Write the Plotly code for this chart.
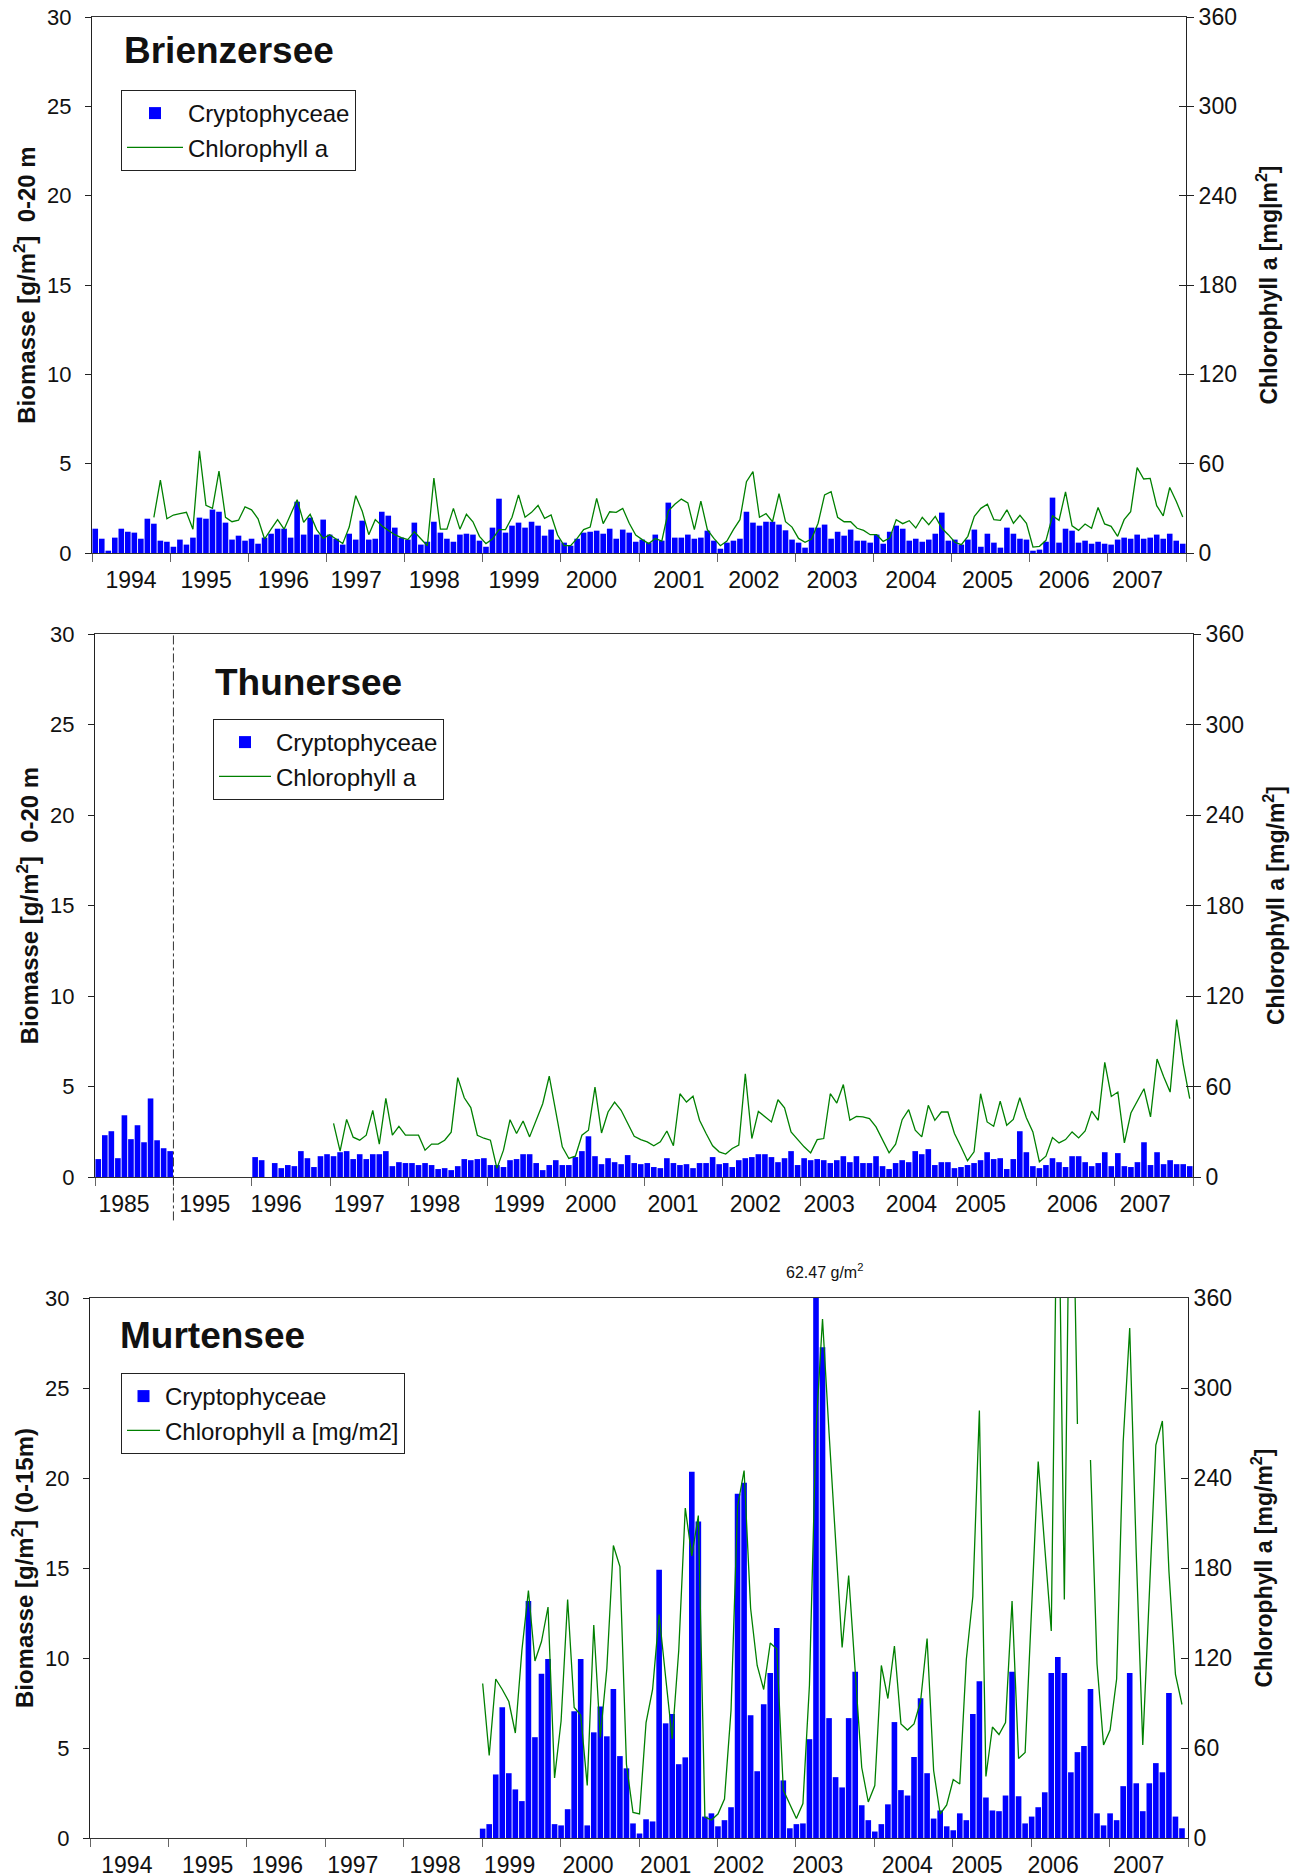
import plotly.graph_objects as go

W, H = 1300, 1874
OFF = 8  # page body margin around the plot div
FONT = "Arial, Liberation Sans, sans-serif"
BLUE = "#0000FF"
GREEN = "#008000"

# ---------------- Brienzersee (monthly, 1994-2007) ----------------
brienz_labels = [str(y) for y in range(1994, 2008)]
brienz_bio = [
    1.36, 0.80, 0.13, 0.86, 1.36, 1.19, 1.14, 0.80, 1.92, 1.64, 0.69, 0.63,  # 1994
    0.35, 0.75, 0.47, 0.86, 1.98, 1.92, 2.43, 2.31, 1.70, 0.75, 0.97, 0.69,  # 1995
    0.80, 0.52, 0.86, 1.08, 1.36, 1.36, 0.86, 2.87, 1.03, 1.98, 1.03, 1.87,  # 1996
    1.03, 0.80, 0.47, 1.08, 0.75, 1.81, 0.75, 0.80, 2.31, 2.09, 1.42, 0.86,  # 1997
    0.75, 1.70, 0.47, 0.63, 1.75, 1.14, 0.80, 0.63, 1.03, 1.08, 1.03, 0.69,  # 1998
    0.35, 1.42, 3.04, 1.14, 1.53, 1.70, 1.42, 1.75, 1.53, 0.97, 1.31, 0.75,  # 1999
    0.58, 0.41, 0.80, 1.14, 1.19, 1.25, 1.08, 1.36, 0.80, 1.31, 1.14, 0.63,  # 2000
    0.75, 0.58, 1.03, 0.69, 2.82, 0.86, 0.86, 1.03, 0.80, 0.86, 1.25, 0.69,  # 2001
    0.24, 0.58, 0.69, 0.80, 2.31, 1.70, 1.53, 1.75, 1.75, 1.59, 1.27, 0.75,  # 2002
    0.58, 0.30, 1.42, 1.42, 1.59, 0.80, 1.19, 0.97, 1.31, 0.69, 0.69, 0.58,  # 2003
    1.03, 0.52, 1.19, 1.53, 1.36, 0.69, 0.80, 0.63, 0.75, 1.08, 2.26, 0.69,  # 2004
    0.75, 0.47, 0.75, 1.31, 0.35, 1.08, 0.58, 0.30, 1.42, 1.08, 0.80, 0.75,  # 2005
    0.13, 0.19, 0.63, 3.10, 0.58, 1.36, 1.25, 0.58, 0.69, 0.52, 0.63, 0.52,  # 2006
    0.47, 0.75, 0.86, 0.80, 1.03, 0.80, 0.86, 1.03, 0.80, 1.08, 0.69, 0.52,  # 2007
]
# chlorophyll starts October 1994
brienz_chl = [
    24, 49, 23,                                                    # 1994 Oct-Dec
    25.5, 26.4, 27.3, 16, 68.7, 32, 30, 55, 24, 21, 22, 31,        # 1995
    29, 23, 9.4, 16, 22.4, 16, 25.5, 35.8, 20.6, 26, 15.7, 9.8,    # 1996
    12.3, 9, 6.3, 17.4, 38.5, 28, 12.3, 22.4, 18.3, 15.2, 12.3, 10.3,  # 1997
    9, 14.3, 9.4, 4.9, 50.3, 16, 16, 30, 16, 26, 21, 11.2,         # 1998
    6.3, 9.4, 15.7, 15.7, 24, 39, 24, 27.3, 32, 23.3, 25.5, 12.1,  # 1999
    4.9, 4.9, 9.8, 15.7, 17.4, 36.7, 19.7, 27.7, 27.3, 30, 20, 12.1,  # 2000
    9, 6.3, 9.8, 8, 28.2, 32.7, 36.2, 33.6, 15.7, 34.9, 15.7, 9.8,  # 2001
    4.9, 8, 15.7, 22.4, 47.9, 54.6, 24, 26.4, 21, 39.8, 21, 17.4,  # 2002
    9.8, 7.2, 9.4, 20, 39, 41.2, 24, 21, 21, 16.6, 15.2, 12.3,     # 2003
    12.3, 7.8, 10, 22.4, 19.7, 21.7, 16.8, 24, 19, 24.6, 16.6, 12.3,  # 2004
    7.2, 5.6, 11.2, 24.6, 30, 32.7, 22.4, 21.9, 29, 20, 25.3, 20,  # 2005
    4, 4.5, 8.5, 25, 21.9, 41, 18.3, 15.2, 19.5, 16.6, 30.6, 19.5,  # 2006
    17.9, 11.2, 22.4, 27.7, 57.3, 49.7, 50.1, 31.8, 25, 44, 34.7, 24.2,  # 2007
]

# ---------------- Thunersee (1985, then 1995-2007) ----------------
thun_labels = ["1985"] + [str(y) for y in range(1995, 2008)]
thun_bio_1985 = [0.99, 2.31, 2.53, 1.04, 3.41, 2.09, 2.86, 1.92, 4.34, 2.03, 1.59, 1.43]
thun_bio = [
    1.10, 0.93, None, 0.77, 0.49, 0.66, 0.60, 1.43, 1.04, 0.55, 1.15, 1.26,  # 1996
    1.15, 1.37, 1.43, 0.99, 1.26, 0.99, 1.26, 1.26, 1.43, 0.60, 0.82, 0.77,  # 1997
    0.77, 0.66, 0.77, 0.66, 0.44, 0.49, 0.38, 0.60, 0.99, 0.93, 0.99, 1.04,  # 1998
    0.66, 0.66, 0.55, 0.93, 0.99, 1.26, 1.26, 0.77, 0.38, 0.66, 0.93, 0.66,  # 1999
    0.66, 1.10, 1.43, 2.25, 1.15, 0.71, 1.04, 0.82, 0.71, 1.21, 0.77, 0.71,  # 2000
    0.77, 0.55, 0.49, 1.04, 0.77, 0.66, 0.71, 0.49, 0.77, 0.77, 1.10, 0.71,  # 2001
    0.77, 0.55, 0.93, 1.04, 1.10, 1.26, 1.26, 1.10, 0.82, 1.04, 1.43, 0.66,  # 2002
    1.04, 0.93, 0.99, 0.93, 0.77, 0.93, 1.15, 0.82, 1.15, 0.77, 0.77, 1.15,  # 2003
    0.60, 0.44, 0.77, 0.93, 0.82, 1.43, 1.26, 1.54, 0.66, 0.82, 0.82, 0.49,  # 2004
    0.55, 0.66, 0.77, 0.93, 1.37, 0.99, 1.04, 0.44, 0.99, 2.53, 1.37, 0.60,  # 2005
    0.49, 0.66, 1.04, 0.82, 0.55, 1.15, 1.15, 0.82, 0.60, 0.77, 1.37, 0.60,  # 2006
    1.32, 0.60, 0.55, 0.82, 1.92, 0.66, 1.37, 0.71, 0.93, 0.71, 0.71, 0.60,  # 2007
]
thun_chl = [
    35.6, 17.1, 38.2, 26.4, 24.4, 27.7, 44.2, 21.8, 52.1, 27.7, 33.6, 27.7,  # 1997
    27.7, 27.7, 17.8, 21.8, 21.8, 24.4, 29.7, 65.9, 52.5, 46, 27.7, 25.7,    # 1998
    24.4, 5.7, 17.8, 38, 28.8, 37.1, 26.6, 37.6, 48.6, 66.8, 42, 20,         # 1999
    12.3, 13.8, 27.7, 31, 59.6, 29.2, 43.1, 49.7, 44.2, 35.4, 27, 24.8,      # 2000
    23.3, 20.7, 23.3, 30.5, 20.7, 55.2, 49.7, 53.6, 37.6, 28.8, 20.7, 16.7,  # 2001
    15.2, 18.9, 21.1, 68.4, 25.5, 43.5, 39.8, 36.5, 51.2, 45.9, 29.9, 24.8,  # 2002
    20, 16, 24.8, 25.5, 55.2, 49, 61.3, 37.6, 40.2, 39.8, 38.7, 33.2,        # 2003
    24.4, 16, 21.8, 38, 44.6, 31, 26.6, 47.5, 37.6, 43.1, 43.1, 28.8,        # 2004
    20, 10.8, 16.7, 55.2, 36.5, 33.6, 50.3, 34.3, 38.2, 52.5, 39.3, 29.9,    # 2005
    10.1, 13.8, 26.2, 22.6, 24.8, 29.9, 25.9, 30.5, 43.7, 37.6, 76, 53.4,    # 2006
    56.3, 22.6, 42.4, 50.8, 58.5, 39.8, 78.2, 66.6, 56.3, 104.4, 74.9, 51.9,  # 2007
]

# ---------------- Murtensee (monthly, 1999-2007) ----------------
murt_labels = [str(y) for y in range(1994, 2008)]
murt_bio = [
    0.52, 0.77, 3.53, 7.27, 3.60, 2.70, 2.05, 13.17, 5.60, 9.12, 9.95, 0.77,  # 1999
    0.70, 1.60, 7.04, 9.95, 0.70, 5.87, 7.31, 5.65, 8.28, 4.55, 3.87, 0.81,   # 2000
    0.25, 1.04, 0.92, 14.90, 6.37, 6.89, 4.10, 4.48, 20.35, 17.58, 1.19, 1.37,  # 2001
    0.65, 0.99, 1.71, 19.13, 19.74, 6.82, 3.71, 7.43, 9.16, 11.66, 3.20, 0.54,  # 2002
    0.77, 0.81, 5.49, 62.47, 27.26, 6.66, 3.38, 2.81, 6.66, 9.23, 1.82, 0.99,  # 2003
    0.36, 0.77, 1.87, 6.44, 2.66, 2.36, 4.50, 7.76, 3.60, 1.08, 1.53, 0.65,   # 2004
    0.43, 1.37, 0.99, 6.89, 8.71, 2.25, 1.53, 1.49, 2.36, 9.23, 2.32, 0.81,   # 2005
    1.19, 1.71, 2.54, 9.16, 10.06, 9.16, 3.65, 4.77, 5.11, 8.28, 1.37, 0.70,  # 2006
    1.37, 0.99, 2.88, 9.16, 3.04, 1.49, 3.04, 4.16, 3.65, 8.06, 1.19, 0.54,   # 2007
]
murt_chl = [
    103, 55, 106, 99, 91, 70, 125, 165, 118, 131, 154, 40,     # 1999
    78, 159, 87, 82, 35, 142, 67, 113, 195, 181, 49, 17,       # 2000
    16, 77, 99, 149, 107, 66, 125, 220, 188, 215, 14, 12,      # 2001
    16, 26, 85, 221, 245, 153, 115, 99, 130, 126, 32, 22,      # 2002
    13, 23, 102, 272, 346, 270, 199, 127, 175, 113, 47, 24,    # 2003
    35, 115, 93, 128, 76, 72, 76, 91, 133, 45, 16, 22,         # 2004
    39, 36, 119, 161, 285, 41, 74, 69, 77, 158, 53, 57,        # 2005
    150, 251, 194, 138, 480, 159, 520, 276, None, 252, 116, 62,  # 2006
    72, 106, 264, 340, 190, 62, 167, 262, 278, 178, 109, 89,   # 2007
]
murt_peak_note = "62.47 g/m<sup>2</sup>"

# year labels sit slightly left of the segment centres in the original
brienz_label_shift = [0, -.04, -.05, -.12, -.12, -.10, -.11, .01, -.03, -.03, -.02, -.04, -.06, -.12]
thun_label_shift = [-.13, -.10, -.19, -.13, -.17, -.09, -.18, -.13, -.08, -.14, -.09, -.21, -.04, -.11]
murt_label_shift = [-.03, 0, -.11, -.15, -.10, -.15, -.15, -.16, -.23, -.22, -.08, -.19, -.22, -.13]


def monthly_x(start_seg, n, first_month=0, offset=0.5):
    return [start_seg + (first_month + i + offset) / 12 for i in range(n)]


BAR_W = 0.86 / 12
LINE = dict(color=GREEN, width=1.3)

fig = go.Figure()

# Brienzersee
fig.add_trace(go.Bar(x=monthly_x(0, len(brienz_bio)), y=brienz_bio, xaxis="x", yaxis="y",
                     marker=dict(color=BLUE, line_width=0), width=BAR_W,
                     name="Cryptophyceae", legend="legend"))
fig.add_trace(go.Scatter(x=monthly_x(0, len(brienz_chl), first_month=9), y=brienz_chl,
                         xaxis="x", yaxis="y2", mode="lines", line=LINE,
                         name="Chlorophyll a", legend="legend"))

# Thunersee
seg85 = thun_labels.index("1985")
seg96 = thun_labels.index("1996")
seg97 = thun_labels.index("1997")
fig.add_trace(go.Bar(x=monthly_x(seg85, 12) + monthly_x(seg96, len(thun_bio)),
                     y=thun_bio_1985 + thun_bio, xaxis="x2", yaxis="y3",
                     marker=dict(color=BLUE, line_width=0), width=BAR_W,
                     name="Cryptophyceae", legend="legend2"))
fig.add_trace(go.Scatter(x=monthly_x(seg97, len(thun_chl)), y=thun_chl,
                         xaxis="x2", yaxis="y4", mode="lines", line=LINE,
                         name="Chlorophyll a", legend="legend2"))

# Murtensee
seg99 = murt_labels.index("1999")
fig.add_trace(go.Bar(x=monthly_x(seg99, len(murt_bio), offset=0.08), y=murt_bio,
                     xaxis="x3", yaxis="y5",
                     marker=dict(color=BLUE, line_width=0), width=BAR_W,
                     name="Cryptophyceae", legend="legend3"))
fig.add_trace(go.Scatter(x=monthly_x(seg99, len(murt_chl), offset=0.08), y=murt_chl,
                         xaxis="x3", yaxis="y6", mode="lines", line=LINE,
                         name="Chlorophyll a [mg/m2]", legend="legend3"))

# empty helpers so the right axes of the first two panels get ticks on both sides
fig.add_trace(go.Scatter(x=[None], y=[None], xaxis="x", yaxis="y7", showlegend=False,
                         hoverinfo="skip"))
fig.add_trace(go.Scatter(x=[None], y=[None], xaxis="x2", yaxis="y8", showlegend=False,
                         hoverinfo="skip"))


def fx(p):
    return (p - OFF) / W


def fy(p):
    return 1 - (p - OFF) / H


def xaxis(l, r, anchor, labels, shift):
    return dict(domain=[fx(l), fx(r)], anchor=anchor, range=[0, len(labels)],
                tickmode="array", tickvals=[i + 0.5 + s for i, s in enumerate(shift)],
                ticktext=labels, ticks="", ticklabelstandoff=6,
                tickfont=dict(size=23, color="#111"),
                showgrid=False, zeroline=False, showline=True,
                linecolor="#333", linewidth=1, mirror=True,
                minor=dict(tickmode="array", tickvals=list(range(len(labels) + 1)),
                           ticks="outside", ticklen=8, tickcolor="#666", showgrid=False))


def yleft(t, b, anchor, title):
    return dict(domain=[fy(b), fy(t)], anchor=anchor, range=[0, 30], tickmode="array",
                tickvals=[0, 5, 10, 15, 20, 25, 30], ticks="outside", ticklen=6,
                tickcolor="#222", tickfont=dict(size=22, color="#111"),
                ticklabelstandoff=9, ticklabeloverflow="allow",
                showgrid=False, zeroline=False, showline=True, linecolor="#222",
                title=dict(text=title, font=dict(size=24, color="#111"), standoff=4))


CHL_TICKS = [0, 60, 120, 180, 240, 300, 360]


def yright(over, anchor, title, ticks="outside"):
    return dict(overlaying=over, anchor=anchor, side="right", range=[0, 360],
                tickmode="array", tickvals=CHL_TICKS,
                ticks=ticks, ticklen=7, tickcolor="#222",
                tickfont=dict(size=23, color="#111"), ticklabeloverflow="allow",
                showgrid=False, zeroline=False, showline=True, linecolor="#222",
                title=dict(text=title, font=dict(size=23, color="#111"), standoff=24))


def yinner(over, anchor):
    return dict(overlaying=over, anchor=anchor, side="right", range=[0, 360],
                tickmode="array", tickvals=CHL_TICKS, ticks="inside", ticklen=7,
                tickcolor="#222", showticklabels=False, showgrid=False,
                zeroline=False, showline=False)


def legend(x, y, itemwidth):
    return dict(x=fx(x), y=fy(y), xanchor="left", yanchor="top",
                bgcolor="white", bordercolor="#222", borderwidth=1,
                font=dict(size=24, color="#111"), tracegroupgap=0,
                itemwidth=itemwidth)


bio20 = "<b>Biomasse [g/m<sup>2</sup>]  0-20 m</b>"
fig.update_layout(
    width=W, height=H, margin=dict(l=0, r=0, t=0, b=0, autoexpand=False),
    paper_bgcolor="white", plot_bgcolor="white",
    font=dict(family=FONT, color="#111"),
    barmode="overlay", showlegend=True,
    xaxis=xaxis(92, 1186, "y", brienz_labels, brienz_label_shift),
    yaxis=yleft(17, 553, "x", bio20),
    yaxis2=yright("y", "x", "<b>Chlorophyll a [mg|m<sup>2</sup>]</b>"),
    xaxis2=xaxis(95, 1193, "y3", thun_labels, thun_label_shift),
    yaxis3=yleft(634, 1177, "x2", bio20),
    yaxis4=yright("y3", "x2", "<b>Chlorophyll a [mg/m<sup>2</sup>]</b>"),
    xaxis3=xaxis(90, 1188, "y5", murt_labels, murt_label_shift),
    yaxis5=yleft(1298, 1838, "x3", "<b>Biomasse [g/m<sup>2</sup>] (0-15m)</b>"),
    yaxis6=yright("y5", "x3", "<b>Chlorophyll a [mg/m<sup>2</sup>]</b>", ticks="inside"),
    yaxis7=yinner("y", "x"),
    yaxis8=yinner("y3", "x2"),
    legend=legend(121, 90, 56),
    legend2=legend(213, 719, 52),
    legend3=legend(121, 1373, 33),
)

# dash-dot separator between 1985 and 1995 in the Thunersee panel
fig.add_shape(type="line", xref="x2", yref="y3 domain", x0=1, x1=1, y0=-0.08, y1=1,
              line=dict(color="#333", width=1, dash="dashdot"))

titles = [("Brienzersee", 122, 50), ("Thunersee", 213, 682), ("Murtensee", 118, 1335)]
for txt, px, py in titles:
    fig.add_annotation(text=f"<b>{txt}</b>", xref="paper", yref="paper",
                       x=fx(px), y=fy(py), xanchor="left", yanchor="middle",
                       showarrow=False, font=dict(size=37, color="#111", family=FONT))

fig.add_annotation(text=murt_peak_note, xref="paper", yref="paper",
                   x=fx(824), y=fy(1271), xanchor="center", yanchor="middle",
                   showarrow=False, font=dict(size=16, color="#111", family=FONT))

fig.write_html("out.html")
